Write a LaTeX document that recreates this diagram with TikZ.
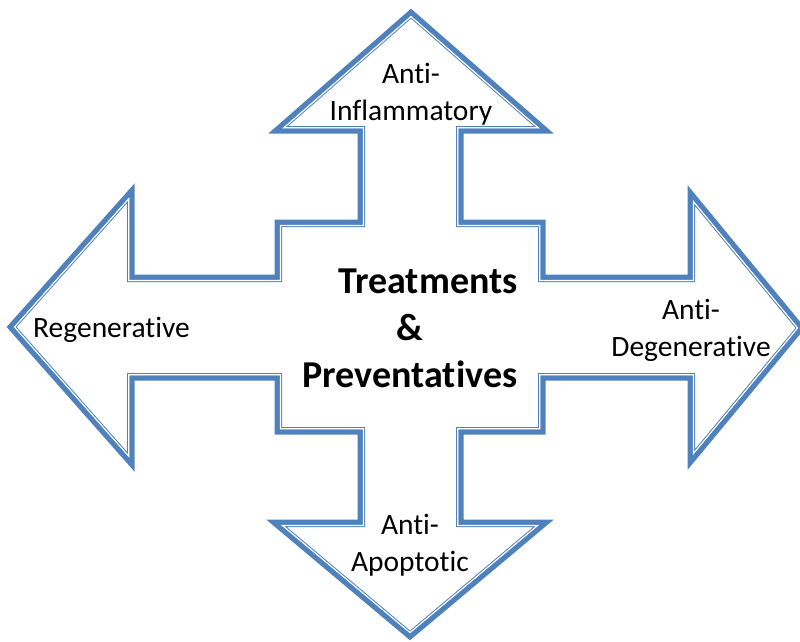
\documentclass[tikz,border=0pt]{standalone}
\usepackage{fontspec}
\setmainfont{Carlito}[Ligatures=NoCommon,RawFeature={-liga}]
\definecolor{arrowblue}{RGB}{79,129,189}
\begin{document}
\begin{tikzpicture}[x=1pt,y=-1pt,
  lbl/.style={font=\fontsize{29.5}{37}\selectfont, align=center, inner sep=0pt},
  centertext/.style={font=\bfseries\fontsize{38}{47}\selectfont, align=center, inner sep=0pt},
  outerline/.style={arrowblue, line width=5pt}]
\useasboundingbox (0,0) rectangle (800,641);
\clip (0,0) rectangle (800,641);
\def\outline{(411,12) -- (547,131) -- (461,131) -- (461,222) -- (543,222) -- (543,277) -- (690,277) -- (690,192) -- (802,328) -- (690,463) -- (690,378) -- (543,378) -- (543,432) -- (461,432) -- (461,522) -- (547,522) -- (410,637) -- (273,522) -- (360,522) -- (360,432) -- (277,432) -- (277,378) -- (132,378) -- (132,465) -- (10,327) -- (132,190) -- (132,277) -- (277,277) -- (277,222) -- (360,222) -- (360,131) -- (275,131) -- cycle}
\fill[white] \outline;
\begin{scope}
  \clip \outline;
  \draw[arrowblue, line width=10pt] \outline;
  \draw[white, line width=8pt] \outline;
  \draw[arrowblue, line width=5pt] \outline;
\end{scope}
\draw[outerline] \outline;
\node[lbl] (top) at (411,94) {Anti-\\Inflammatory};
\node[lbl, anchor=base west] (left) at (33,337) {Regenerative};
\node[lbl] (right) at (691,330) {Anti-\\Degenerative};
\node[lbl] (bottom) at (410,545) {Anti-\\Apoptotic};
\node[centertext] (center) at (410,328) {\hspace*{36pt}Treatments\\\&\\Preventatives};
\end{tikzpicture}
\end{document}
